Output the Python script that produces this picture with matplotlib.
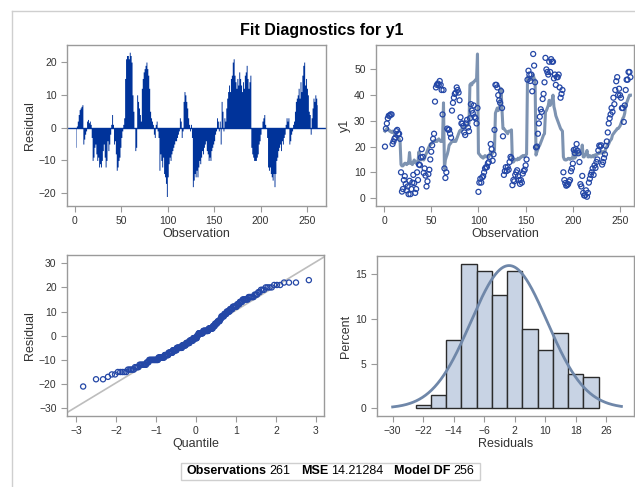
import statistics
import numpy as np
import matplotlib
matplotlib.use('Agg')
import matplotlib.pyplot as plt
from matplotlib.patches import Rectangle
from matplotlib.lines import Line2D

plt.rcParams['font.family'] = ['Liberation Sans', 'DejaVu Sans']

# residuals by observation
residuals = [
    -6, 0.5, 2, 4, 5.5, 6, 6.5, 7, -5, -3.5, -2, -1, 2, 2.5, 1.5, 2, 1, -3, -10, -9,
    -6, -5, -8, -10, -9, -12, -11, -12, -10, -7, -5, -9, -12, -10, -4, -7, -5, -2, 1, 4,
    1, -5, -4, -8, -13, -12, -10, -9, -6, -3, -1, 1, 3, 15, 21, 22, 22, 21, 23, 22,
    20, 10, 5, 0, -7, -6, 10, 8, 6, 4, 2, 12, 15, 17, 18, 19, 20, 18, 16, 12,
    5, 3, 2, 1, -2, -3, 1, 2, -1, -3, -13, -8, -10, -12, -9, -14, -15, -17, -21, -15,
    -11, -9, -10, -8, -7, -6, -5, -4, -4, -3, -2, -1, 3, 2, -3, -1, 8, 11, 10, 8,
    6, 3, 1, -1, 1, -3, -18, -16, -14, -15, -13, -15, -12, -10, -11, -9, -7, -8, -6, -5,
    -4, -7, -8, -10, -9, -10, -7, -6, -5, -4, -2, -1, 3, 2, -1, 2, -5, 8, 5, -1,
    3, 2, 6, 9, 11, 13, 11, 15, 16, 20, 21, 16, 14, 12, 15, 13, 17, 15, 13, 11,
    14, 12, 16, 17, 19, 15, 12, 14, 16, -6, -8, -9, -10, -10, -10, -9, -8, -5, -4, -2,
    0, 2, 3, 4, 1, 0, -3, -12, -13, -12, -14, -15, -16, -14, -18, -14, -10, -9, -7, -6,
    -5, -7, -4, -5, -3, -2, 1, 3, 2, 3, -5, -4, -2, -1, 1, 2, 5, 8, 9, 10,
    12, 9, 14, 11, 16, 19, 20, 13, 15, 12, 10, 5, 4, -2, 3, 6, 9, 8, 10, 9,
    7,
]

# predicted values (the grey line in the y1 panel)
predicted = [
    26, 26.5, 27, 27, 26.5, 26, 26, 25.5, 26, 25.5, 25, 24.5, 24,
    24, 23.5, 23, 22,
    13,
    12.5, 12.5, 13, 13.5, 13.5, 13, 13.5, 13.5,
    17.7,
    13.5, 13.5, 13, 14, 14.8, 14, 13.5, 14, 14,
    18,
    14.8, 14.8, 15, 15, 14.8, 15.5,
    16.7, 17.5, 18.5, 19.3, 20, 21, 21, 21.5,
    22, 22, 22.5, 22, 22, 22.5, 23, 22.5, 22, 22, 22.5,
    37,
    11.5,
    14.8, 16, 17, 18.5, 20.6, 21, 21.5, 22,
    22, 22, 22.5, 22, 23, 24, 25, 26, 26.4, 26,
    27, 27, 27.5, 27.5, 28, 28.4, 28.4, 29,
    44, 44.5, 44, 45, 45, 45.5, 46, 46,
    56,
    17.4, 17, 16.5, 16, 16, 15.5, 16, 16.5,
    16, 16, 16.5, 16, 17, 18, 17, 17.5, 18, 18.5,
    33, 34, 35, 34, 35, 36, 42.6,
    34, 27, 27, 26.5, 26, 25.5, 25, 26, 26,
    26, 26.5, 14,
    14, 14.5, 15, 15, 14.8, 15.5, 15, 15.5, 16, 16, 16.5, 16.5, 16, 16.7, 17,
    47, 46.5, 46, 46.5, 46, 46.5, 48, 46.5, 46,
    16.7, 18, 19, 20, 20.6, 21.5, 22.5, 23.5, 24.5, 25,
    33.5, 34, 35, 36, 38, 36, 37, 38, 40,
    35.5, 34, 32, 31, 30, 29, 28, 27, 26.5, 26,
    16, 15, 14.8, 14.8,
    15, 15.4, 15.4, 15, 15.4, 15.5, 15.4, 18.7, 15.5, 16,
    17, 17.4, 17.4, 17, 17.4, 17.5, 20.6,
    16, 16, 17, 17, 18.5, 16, 16, 16.5, 16, 16, 16.5, 16,
    16.7, 16.7, 17, 17, 17.5, 17.4, 18, 17.5, 18, 18, 17.5, 18,
    19.3, 20, 20.5, 21, 22, 22.5, 23, 24.5, 25, 25.5, 26,
    26.4, 27, 27, 27.5, 28, 29, 30, 31, 31.6,
    33, 36, 37, 38, 39, 40, 40,
]

# residual histogram, bin counts
bin_edges = [-24, -20, -16, -12, -8, -4, 0, 4, 8, 12, 16, 20, 24]
bin_counts = [1, 4, 20, 42, 40, 33, 40, 23, 17, 22, 10, 9]

n_obs = 261
mse_label = '14.21284'
model_df = 256

BLUE = '#00339A'
CIRCLE = '#2447A6'
FIT = '#6F87A9'
AXIS = '#9A9A9A'
TXT = '#333333'

W, H = 635, 487


def px_axes(fig, x0, y0, x1, y1):
    """Axes from pixel box (top-left origin)."""
    return fig.add_axes([x0 / W, 1 - y1 / H, (x1 - x0) / W, (y1 - y0) / H])


def style(ax):
    for s in ax.spines.values():
        s.set_color(AXIS)
        s.set_linewidth(1.0)
    ax.tick_params(colors=AXIS, labelcolor=TXT, labelsize=7.5, length=4, width=0.8)


def label(ax, xl, yl):
    ax.set_xlabel(xl, fontsize=9, color=TXT, labelpad=1)
    ax.set_ylabel(yl, fontsize=9, color=TXT, labelpad=2)


def main():
    resid = np.array(residuals, dtype=float)
    pred = np.array(predicted, dtype=float)
    y1 = pred + resid
    obs = np.arange(1, len(resid) + 1)
    mu, sd = resid.mean(), resid.std(ddof=1)

    fig = plt.figure(figsize=(W / 100, H / 100), dpi=100)
    fig.patch.set_facecolor('white')

    # outer frame (left and top only visible)
    fig.add_artist(Line2D([12 / W, 12 / W], [0, 1 - 11 / H], color='#CFCFCF', lw=1))
    fig.add_artist(Line2D([12 / W, 1], [1 - 11 / H, 1 - 11 / H], color='#CFCFCF', lw=1))

    fig.text(322 / W, 1 - 30 / H, 'Fit Diagnostics for y1', ha='center', va='center',
             fontsize=11.5, weight='bold', color='black')

    # residual by observation; needles merge into one filled step profile
    ax = px_axes(fig, 67, 45, 326, 206)
    ax.fill_between(obs, 0, resid, step='mid', color=BLUE, lw=0)
    ax.axhline(0, color=BLUE, lw=1.0)
    ax.set_xlim(-8.6, 270.5)
    ax.set_ylim(-23.9, 25.2)
    ax.set_xticks([0, 50, 100, 150, 200, 250])
    ax.set_yticks([-20, -10, 0, 10, 20])
    label(ax, 'Observation', 'Residual')
    style(ax)

    # observed and predicted y1
    ax = px_axes(fig, 376, 45, 634, 206)
    ax.plot(obs, pred, color=FIT, lw=2.2, alpha=0.9, zorder=2)
    ax.scatter(obs, y1, s=13, facecolors='none', edgecolors=CIRCLE, linewidths=0.9, zorder=3)
    ax.set_xlim(-8.5, 264.8)
    ax.set_ylim(-3.1, 59.5)
    ax.set_xticks([0, 50, 100, 150, 200, 250])
    ax.set_yticks([0, 10, 20, 30, 40, 50])
    label(ax, 'Observation', 'y1')
    style(ax)

    # normal quantile plot of residuals
    ax = px_axes(fig, 67, 255, 324, 416)
    nd = statistics.NormalDist()
    n = len(resid)
    q = np.array([nd.inv_cdf((i - 0.375) / (n + 0.25)) for i in range(1, n + 1)])
    ax.axline((0, mu), slope=sd, color='#BDBDBD', lw=1.2, zorder=1)
    ax.scatter(q, np.sort(resid), s=14, facecolors='none', edgecolors=CIRCLE,
               linewidths=0.9, zorder=3)
    ax.set_xlim(-3.225, 3.2)
    ax.set_ylim(-33.2, 33.4)
    ax.set_xticks([-3, -2, -1, 0, 1, 2, 3])
    ax.set_yticks([-30, -20, -10, 0, 10, 20, 30])
    label(ax, 'Quantile', 'Residual')
    style(ax)

    # histogram of residuals with normal curve
    ax = px_axes(fig, 377, 256, 634, 416)
    edges = np.array(bin_edges, dtype=float)
    pct = np.array(bin_counts) / n_obs * 100
    ax.bar(edges[:-1], pct, width=np.diff(edges), align='edge', color='#C8D3E4',
           edgecolor='#2B2B2B', lw=1.0, zorder=2)
    xs = np.linspace(-30, 30, 300)
    dens = np.exp(-0.5 * ((xs - mu) / sd) ** 2) / (sd * np.sqrt(2 * np.pi))
    ax.plot(xs, dens * 4 * 100, color=FIT, lw=2.0, zorder=3)
    ax.set_xlim(-34.1, 33.3)
    ax.set_ylim(-0.86, 17.0)
    ax.set_xticks([-30, -22, -14, -6, 2, 10, 18, 26])
    ax.set_yticks([0, 5, 10, 15])
    label(ax, 'Residuals', 'Percent')
    style(ax)

    # fit statistics footer
    fig.add_artist(Rectangle((181 / W, 1 - 480 / H), 299 / W, 17 / H, transform=fig.transFigure,
                             facecolor='white', edgecolor='#CFCFCF', lw=1))
    parts = [('Observations', 'bold', 0), (str(n_obs), 'normal', 3),
             ('MSE', 'bold', 11), (mse_label, 'normal', 3),
             ('Model DF', 'bold', 10), (str(model_df), 'normal', 3)]
    texts = [fig.text(0, 0, lab, fontsize=9, weight=wt, color='black', va='center')
             for lab, wt, gap in parts]
    # place the pieces one after another using rendered widths
    fig.canvas.draw()
    r = fig.canvas.get_renderer()
    x = 186
    for t, (lab, wt, gap) in zip(texts, parts):
        x += gap
        t.set_position((x / W, 1 - 471.5 / H))
        x += t.get_window_extent(r).width

    fig.savefig('out.png', dpi=100, facecolor='white')


if __name__ == '__main__':
    main()
